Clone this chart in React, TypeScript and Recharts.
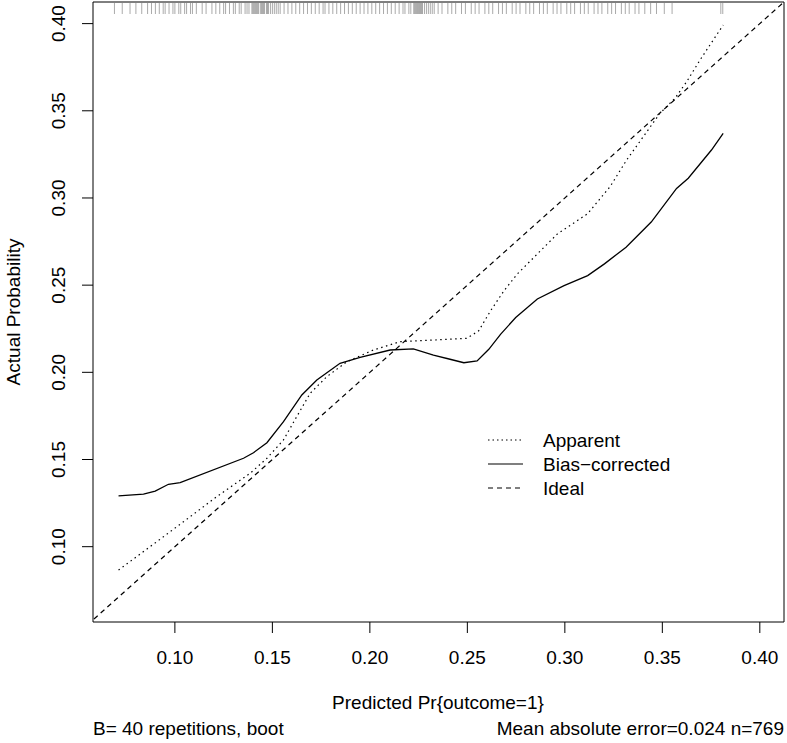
import React from 'react';
import { ComposedChart, Line, Scatter, XAxis, YAxis, ReferenceLine, ReferenceArea } from 'recharts';

const FONT = '"Liberation Sans", Arial, Helvetica, sans-serif';

// calibration curves
const apparentX = [0.0711, 0.0873, 0.1044, 0.1215, 0.1386, 0.1472, 0.1557, 0.1625, 0.1694, 0.1779, 0.1882, 0.2018, 0.2155, 0.2326, 0.2498, 0.2558, 0.2619, 0.2688, 0.2756, 0.2859, 0.2962, 0.3117, 0.3232, 0.3317, 0.3402, 0.3488, 0.3565, 0.3625, 0.3693, 0.3761, 0.3812];
const apparentY = [0.0866, 0.1000, 0.1143, 0.1287, 0.1421, 0.1507, 0.1612, 0.1746, 0.1880, 0.1975, 0.2061, 0.2128, 0.2176, 0.2185, 0.2195, 0.2238, 0.2353, 0.2468, 0.2564, 0.2679, 0.2794, 0.2910, 0.3065, 0.3218, 0.3351, 0.3486, 0.3572, 0.3667, 0.3791, 0.3906, 0.3992];

const biasX = [0.0711, 0.0839, 0.0899, 0.0967, 0.1027, 0.1352, 0.1403, 0.1472, 0.1557, 0.1651, 0.1728, 0.1847, 0.1950, 0.2104, 0.2223, 0.2326, 0.2411, 0.2482, 0.2550, 0.2610, 0.2670, 0.2748, 0.2859, 0.2996, 0.3117, 0.3203, 0.3314, 0.3443, 0.3573, 0.3633, 0.3752, 0.3812];
const biasY = [0.1291, 0.1301, 0.1319, 0.1358, 0.1367, 0.1507, 0.1539, 0.1596, 0.1717, 0.1870, 0.1956, 0.2052, 0.2086, 0.2128, 0.2134, 0.2099, 0.2075, 0.2055, 0.2065, 0.2132, 0.2218, 0.2314, 0.2421, 0.2497, 0.2555, 0.2622, 0.2718, 0.2862, 0.3055, 0.3113, 0.3275, 0.3371];

// predicted values shown as the rug on top
const rugValues = [
  0.069, 0.073, 0.077, 0.080, 0.083, 0.086,
  0.088, 0.090, 0.092, 0.094, 0.095, 0.097, 0.099, 0.100, 0.102, 0.103, 0.105, 0.106, 0.108, 0.109, 0.111,
  0.114, 0.116, 0.119,
  0.121, 0.123, 0.125, 0.126, 0.128, 0.130, 0.131, 0.133, 0.134, 0.136, 0.137, 0.138,
  0.1395, 0.140, 0.1405, 0.141, 0.1415, 0.142, 0.1425, 0.143, 0.144, 0.1445, 0.145, 0.1455, 0.146, 0.147, 0.1475, 0.148, 0.149, 0.150, 0.151, 0.152, 0.153, 0.154,
  0.156, 0.158, 0.160, 0.162, 0.164, 0.166, 0.168, 0.170, 0.172, 0.174, 0.176, 0.177, 0.179, 0.181, 0.183,
  0.185, 0.187, 0.189, 0.191, 0.193, 0.195, 0.197, 0.199, 0.201, 0.203, 0.205, 0.207, 0.209, 0.211, 0.213, 0.215, 0.217, 0.218, 0.220, 0.221,
  0.2225, 0.223, 0.2235, 0.224, 0.2245, 0.225, 0.2255, 0.226, 0.2265, 0.227, 0.228, 0.229, 0.230, 0.231, 0.232, 0.233,
  0.235, 0.237, 0.240, 0.242, 0.244, 0.247, 0.249, 0.252, 0.254, 0.256, 0.259, 0.261, 0.263, 0.266, 0.268, 0.270, 0.273, 0.275, 0.277, 0.280,
  0.282, 0.284, 0.287, 0.289, 0.291, 0.294, 0.296, 0.298, 0.301, 0.303, 0.305, 0.308, 0.310, 0.312, 0.315, 0.317, 0.319, 0.322, 0.324, 0.326,
  0.329, 0.331, 0.333, 0.336, 0.338, 0.341, 0.344, 0.347, 0.351, 0.355,
  0.380, 0.381,
];

const xTicks = [0.10, 0.15, 0.20, 0.25, 0.30, 0.35, 0.40];
const yTicks = [0.10, 0.15, 0.20, 0.25, 0.30, 0.35, 0.40];

const xMin = 0.058, xMax = 0.4124;
const yMin = 0.0568, yMax = 0.4124;

const apparent = apparentX.map((x, i) => ({ x, y: apparentY[i] }));
const biasCorrected = biasX.map((x, i) => ({ x, y: biasY[i] }));
const rug = rugValues.map((x) => ({ x, y: yMax }));

const YTick = (props: any) => {
  const { y, payload } = props;
  return (
    <g transform={`translate(65, ${y}) rotate(-90)`}>
      <text x={0} y={0} textAnchor="middle" fontSize={19} fontFamily={FONT} fill="#000">
        {payload.value.toFixed(2)}
      </text>
    </g>
  );
};

const RugTick = (props: any) => (
  <line x1={props.cx} x2={props.cx} y1={props.cy + 1} y2={props.cy + 12} stroke="#555" strokeWidth={0.5} />
);

const legendRows = [
  { name: 'Apparent', dash: '1.5 3', y: 440 },
  { name: 'Bias\u2212corrected', dash: undefined, y: 464 },
  { name: 'Ideal', dash: '5 4', y: 488 },
];

export default function App() {
  return (
    <div style={{ position: 'absolute', left: 0, top: 0, width: 787, height: 743, background: '#fff' }}>
      <ComposedChart width={787} height={743} margin={{ top: 2, right: 3, bottom: 0, left: 0 }}>
        <XAxis
          dataKey="x"
          type="number"
          domain={[xMin, xMax]}
          allowDataOverflow
          ticks={xTicks}
          interval={0}
          tickFormatter={(v: number) => v.toFixed(2)}
          tickSize={11}
          tickMargin={18}
          height={121}
          axisLine={false}
          tickLine={{ stroke: '#000' }}
          tick={{ fill: '#000', fontSize: 19, fontFamily: FONT }}
        />
        <YAxis
          dataKey="y"
          type="number"
          domain={[yMin, yMax]}
          allowDataOverflow
          ticks={yTicks}
          interval={0}
          width={93}
          tickSize={11}
          axisLine={false}
          tickLine={{ stroke: '#000' }}
          tick={<YTick />}
        />
        <ReferenceArea x1={xMin} x2={xMax} y1={yMin} y2={yMax} fill="none" stroke="#000" strokeWidth={1} ifOverflow="visible" />
        <ReferenceLine segment={[{ x: 0, y: 0 }, { x: 1, y: 1 }]} ifOverflow="hidden" stroke="#000" strokeWidth={1.2} strokeDasharray="5 4" />
        <Scatter data={rug} shape={<RugTick />} isAnimationActive={false} />
        <Line data={apparent} dataKey="y" type="linear" dot={false} stroke="#000" strokeWidth={1.2} strokeDasharray="1.5 3.5" isAnimationActive={false} />
        <Line data={biasCorrected} dataKey="y" type="linear" dot={false} stroke="#000" strokeWidth={1.3} isAnimationActive={false} />
      </ComposedChart>
      <svg width={787} height={743} style={{ position: 'absolute', left: 0, top: 0, pointerEvents: 'none' }}>
        <g fontFamily={FONT} fontSize={19} fill="#000">
          {legendRows.map((r) => (
            <g key={r.name}>
              <line x1={488} x2={523} y1={r.y} y2={r.y} stroke="#000" strokeWidth={1.2} strokeDasharray={r.dash} />
              <text x={543} y={r.y + 7}>{r.name}</text>
            </g>
          ))}
          <text x={438} y={709} textAnchor="middle">Predicted Pr{'{'}outcome=1{'}'}</text>
          <g transform="translate(20, 312) rotate(-90)">
            <text x={0} y={0} textAnchor="middle">Actual Probability</text>
          </g>
          <text x={93} y={735} textAnchor="start">B= 40 repetitions, boot</text>
          <text x={784} y={735} textAnchor="end">Mean absolute error=0.024 n=769</text>
        </g>
      </svg>
    </div>
  );
}
